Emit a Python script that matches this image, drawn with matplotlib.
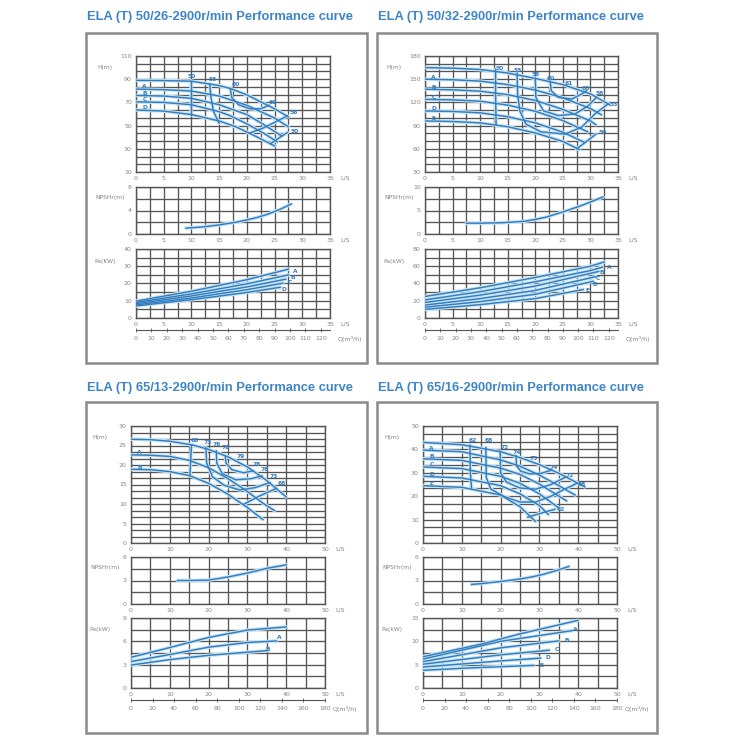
import numpy as np
import matplotlib.pyplot as plt
from matplotlib.patches import Rectangle
from matplotlib.ticker import FixedLocator, FuncFormatter

# ---------------- data ----------------
# panel 1 : ELA (T) 50/26
p1_head_names = ["", "A", "B", "C", "D"]
p1_head = [
    ([0, 5, 10, 15, 17, 20, 22.5, 25, 27.5], [89, 88.8, 88.3, 84.5, 82, 76.5, 70.5, 64.5, 57.5]),
    ([0, 5, 10, 15, 20, 25, 27.5], [81.5, 81, 79.8, 75.5, 67.5, 56.5, 49]),
    ([0, 5, 10, 15, 20, 23, 26.3], [76, 75.5, 73.5, 68, 59.5, 51, 41]),
    ([0, 5, 10, 15, 17, 20, 23, 25.5], [70.5, 70, 68, 62, 58.5, 51.5, 43.5, 36]),
    ([0, 5, 10, 15, 18, 21.5, 25], [63.5, 62.5, 59.5, 54, 49, 41, 32.5]),
]
p1_eff = [
    ([10, 10], [88.3, 59.5]),
    ([13.3, 13.5, 14, 15], [86, 75, 62, 52]),
    ([17, 17.3, 18.5, 20.5, 22.5, 24], [82, 74, 68, 64.5, 64.5, 67.5]),
    ([20.5, 23, 25.5, 27.3], [43.5, 48, 54, 58.3]),
    ([24.3, 26, 27.3], [34.5, 40, 44]),
]
p1_eff_labels = [("50", 10, 92), ("56", 13.8, 89.5), ("60", 18, 85), ("60", 24.6, 70),
                 ("56", 28.4, 61), ("50", 28.6, 45)]
p1_npsh_q = [9, 12, 15, 18, 20, 22, 24, 26, 28]
p1_npsh = [1.0, 1.2, 1.55, 2.0, 2.4, 2.85, 3.45, 4.2, 5.1]
p1_power = [
    ([0, 10, 20, 27.5], [9.8, 15.5, 22.2, 28.3]),
    ([0, 10, 20, 27.5], [9, 14, 19.8, 25]),
    ([0, 10, 20, 27], [8.3, 12.8, 18, 22.5]),
    ([0, 10, 20, 26.5], [7.6, 11.6, 16.4, 20.2]),
    ([0, 10, 20, 26], [7, 10.6, 14.8, 17.8]),
]
p1_power_labels = [("A", 28.7, 27.2), ("B", 28.3, 23.4), ("C", 27.7, 20.3), ("D", 26.6, 16.7)]

# panel 2 : ELA (T) 50/32
p2_head_names = ["", "A", "B", "C", "D", "E"]
p2_head = [
    ([0, 5, 10, 15, 20, 25, 30, 33.5], [165, 164.3, 162.5, 158, 151, 143, 131, 117]),
    ([0, 5, 10, 15, 20, 25, 30, 32], [150, 149.3, 147.5, 143, 136, 126, 112, 104]),
    ([0, 5, 10, 15, 20, 25, 30, 31], [137, 136.3, 134.5, 130, 122.5, 111, 96, 91]),
    ([0, 5, 10, 15, 20, 25, 29.5], [124, 123.3, 121.5, 116.5, 108.5, 96.5, 82]),
    ([0, 5, 10, 15, 20, 25, 29], [109, 108.3, 106.5, 101.5, 93.5, 81.5, 68]),
    ([0, 5, 10, 15, 20, 25, 28], [96, 95.3, 93.5, 88.5, 80.5, 69.5, 59]),
]
p2_eff = [
    ([12.8, 12.8, 12.9], [162.8, 130, 91]),
    ([16.7, 16.8, 17.2, 18.3, 21, 25.4, 28.4, 30.8, 33.2], [158, 130, 109, 92, 82, 79, 88, 105, 118]),
    ([20, 20.1, 21.5, 24.2, 27.2, 29.6, 31.1], [151, 126.5, 109, 103, 105, 115.7, 126.5]),
    ([22.7, 22.9, 24.2, 26.6, 28.4, 29.3], [147.5, 135, 126.5, 124.3, 130.8, 135]),
    ([27.5, 29.2, 31], [60, 69, 79]),
]
p2_eff_labels = [("50", 13.6, 164), ("55", 16.8, 161), ("58", 20.1, 156), ("60", 22.8, 151.5),
                 ("61", 26.1, 145), ("60", 29.2, 137.5), ("58", 31.6, 131), ("55", 34.2, 117),
                 ("50", 32.2, 80.6)]
p2_npsh_q = [7.5, 10, 14, 18, 20, 22, 25, 28, 30, 32.3]
p2_npsh = [2.3, 2.3, 2.4, 2.7, 3.1, 3.6, 4.7, 5.9, 6.8, 7.9]
p2_power = [
    ([0, 10, 20, 30, 32.5], [25, 35, 47, 60, 65]),
    ([0, 10, 20, 30, 32.2], [21, 30.5, 42, 55, 59]),
    ([0, 10, 20, 31.5], [18, 26.5, 37, 54]),
    ([0, 10, 20, 31], [15, 22.5, 32, 48]),
    ([0, 10, 20, 30.5], [12.5, 19, 27.5, 42.5]),
    ([0, 10, 20, 28.7], [10, 15.5, 22.5, 33]),
]
p2_power_labels = [("A", 33.4, 59), ("B", 32.1, 53), ("C", 31.3, 45.5), ("D", 30.9, 38.5), ("E", 29.4, 31.5)]

# panel 3 : ELA (T) 65/13
p3_head_names = ["", "A", "B"]
p3_head = [
    ([0, 5, 10, 16, 20, 25, 30, 35, 40], [26.6, 26.5, 26.1, 25.1, 24, 22.1, 19.5, 16, 11.8]),
    ([0, 5, 10, 15, 20, 25, 30, 34, 37], [22.6, 22.5, 22.2, 21.2, 19.3, 16.5, 13.2, 10.2, 8.3]),
    ([0, 5, 10, 15, 20, 25, 30, 34], [18.9, 18.8, 18.3, 17.3, 15.3, 12.5, 9.1, 6]),
]
p3_eff = [
    ([15.6, 15.4, 15.2], [25.1, 21.5, 17.3]),
    ([19.3, 19.5, 21, 24, 28, 32, 35.8], [24.4, 20.5, 17, 14.8, 13.6, 14.2, 15.5]),
    ([22, 22.1, 23.5, 27, 31, 33.8], [23.6, 20.5, 17.8, 16.2, 16.5, 17.2]),
    ([24.3, 24.5, 26, 29, 31.5], [22.3, 20.5, 18.8, 18, 18.5]),
    ([29, 33, 37.5], [9.9, 12, 14.0]),
]
p3_eff_labels = [("68", 16.4, 26.2), ("73", 19.8, 25.8), ("76", 22.2, 25.3), ("78", 24.4, 24.6),
                 ("79", 28.2, 22.2), ("78", 32.3, 20.2), ("76", 34.5, 18.9), ("73", 36.7, 17.0),
                 ("68", 38.9, 15.2)]
p3_npsh_q = [12, 15, 20, 25, 30, 35, 40]
p3_npsh = [3.0, 3.0, 3.05, 3.45, 3.95, 4.55, 5.0]
p3_power = [
    ([0, 10, 20, 30, 40], [3.95, 5.2, 6.5, 7.45, 7.85]),
    ([0, 10, 20, 30, 37.5], [3.4, 4.3, 5.25, 5.85, 6.05]),
    ([0, 10, 20, 30, 35], [2.95, 3.65, 4.2, 4.6, 4.8]),
]
p3_power_labels = [("A", 38.3, 6.5), ("B", 35.3, 5.0)]

# panel 4 : ELA (T) 65/16
p4_head_names = ["", "A", "B", "C", "D", "E"]
p4_head = [
    ([0, 10, 20, 25, 30, 35, 41.7], [43, 42, 39, 36.5, 33.5, 29.8, 24]),
    ([0, 10, 20, 25, 30, 35, 39.2], [39.7, 39, 35.5, 32.8, 29, 24.5, 20.5]),
    ([0, 10, 20, 25, 30, 37], [36, 35.3, 32, 29.3, 25.2, 18]),
    ([0, 10, 20, 25, 30, 35], [32.5, 31.8, 28.5, 25.5, 21, 15]),
    ([0, 10, 20, 25, 30, 32.3], [28.5, 27.8, 24.5, 21, 16, 12.2]),
    ([0, 10, 20, 25, 29], [24.5, 23.8, 20.5, 15.5, 9.2]),
]
p4_eff = [
    ([12.1, 12.2, 12.5], [41.8, 30, 23.5]),
    ([16.2, 16.3, 17.5, 21, 25, 29, 33, 36.5, 39.8], [40.8, 28, 23, 19.8, 17.5, 17.5, 20, 23, 25.6]),
    ([19.9, 20, 21.5, 25, 29, 33, 36.8], [39.2, 30, 26, 23.5, 23, 25, 28.2]),
    ([24, 24.1, 25.2, 27.5, 30.5, 33.2], [37.3, 33, 30.7, 29.5, 29.8, 31.2]),
    ([27, 30.5, 34], [11, 12.8, 14.4]),
]
p4_eff_labels = [("62", 12.8, 44.0), ("68", 17.0, 43.6), ("72", 21.1, 40.6), ("74", 24.2, 38.6),
                 ("75", 28.5, 36.0), ("74", 33.8, 32.2), ("72", 37.8, 28.8), ("68", 41.0, 25.0),
                 ("62", 35.5, 14.4)]
p4_npsh_q = [12.5, 15, 20.8, 25.1, 28, 31.1, 34.6, 37.6]
p4_npsh = [2.5, 2.6, 2.92, 3.2, 3.45, 3.8, 4.3, 4.8]
p4_power = [
    ([0, 15, 25, 40], [6.7, 9.4, 11.6, 14.5]),
    ([0, 20, 38.5], [6.2, 10, 12.3]),
    ([0, 20, 35], [5.65, 8.6, 10.1]),
    ([0, 20, 32.5], [5.1, 7.1, 8.1]),
    ([0, 20, 30.3], [4.5, 5.8, 6.4]),
    ([0, 12, 28.5], [3.8, 4.3, 4.85]),
]
p4_power_labels = [("A", 39.3, 12.6), ("B", 37.1, 10.1), ("C", 34.5, 8.2), ("D", 32.3, 6.5), ("E", 30.6, 4.8)]

titles = ["ELA (T) 50/26-2900r/min Performance curve",
          "ELA (T) 50/32-2900r/min Performance curve",
          "ELA (T) 65/13-2900r/min Performance curve",
          "ELA (T) 65/16-2900r/min Performance curve"]

# ---------------- styling / layout ----------------
BLUE = '#357cbe'
GLOW = '#c4e5f5'
GRID = '#555555'
TXT = '#858585'
TITLE = '#3d85c6'

fig = plt.figure(figsize=(7.5, 7.5), dpi=100)
fmt = FuncFormatter(lambda v, p: f"{v:g}")


def px_axes(x0, y0, x1, y1):
    return fig.add_axes([x0 / 750, 1 - y1 / 750, (x1 - x0) / 750, (y1 - y0) / 750])


def ftext(x, y, s, **kw):
    fig.text(x / 750, 1 - y / 750, s, **kw)


def grid_axes(ax, xmax, xg, xl, ylo, yhi, nrows, yl):
    ax.set_xlim(0, xmax)
    ax.set_ylim(ylo, yhi)
    ax.xaxis.set_major_locator(FixedLocator(np.arange(0, xmax + 0.01, xl)))
    ax.xaxis.set_minor_locator(FixedLocator(np.arange(0, xmax + 0.01, xg)))
    ax.yaxis.set_major_locator(FixedLocator(np.arange(ylo, yhi + 0.01, yl)))
    ax.yaxis.set_minor_locator(FixedLocator(np.linspace(ylo, yhi, nrows + 1)))
    ax.xaxis.set_major_formatter(fmt)
    ax.yaxis.set_major_formatter(fmt)
    ax.grid(which='both', color=GRID, lw=0.95)
    ax.set_axisbelow(True)
    ax.tick_params(which='both', length=0, labelsize=4.5, labelcolor=TXT, pad=3)
    for s in ax.spines.values():
        s.set_color(GRID)
        s.set_linewidth(1.0)


def curve(ax, q, v, lw=1.05):
    ax.plot(q, v, color=GLOW, lw=2.6, solid_capstyle='round', zorder=3)
    ax.plot(q, v, color=BLUE, lw=lw, zorder=4)


def lab(ax, s, q, v):
    ax.text(q, v, s, fontsize=4.3, color=BLUE, fontweight='bold', ha='center', va='center', zorder=5)


panels = [
    dict(frame=(86, 33, 367, 363), x=(136, 330), ys=(56, 172, 187, 234, 249, 318, 330), ty=17,
         xmax=35, xg=2.5, xl=5, hy=(10, 110, 15, 20), ny=(0, 8, 4, 4), py=(0, 40, 8, 10), ql=10,
         pa="Pa(KW)", head=p1_head, names=p1_head_names, eff=p1_eff, effl=p1_eff_labels,
         nq=p1_npsh_q, nv=p1_npsh, pw=p1_power, pwl=p1_power_labels),
    dict(frame=(377, 33, 657, 363), x=(425, 618), ys=(56, 172, 187, 234, 249, 318, 330), ty=17,
         xmax=35, xg=2.5, xl=5, hy=(30, 180, 15, 30), ny=(0, 10, 4, 5), py=(0, 80, 8, 20), ql=10,
         pa="Pa(kW)", head=p2_head, names=p2_head_names, eff=p2_eff, effl=p2_eff_labels,
         nq=p2_npsh_q, nv=p2_npsh, pw=p2_power, pwl=p2_power_labels),
    dict(frame=(86, 402, 367, 733), x=(131, 325), ys=(426, 543, 557, 604, 618, 688, 700), ty=388,
         xmax=50, xg=5, xl=10, hy=(0, 30, 18, 5), ny=(0, 6, 4, 3), py=(0, 9, 6, 3), ql=20,
         pa="Pa(kW)", head=p3_head, names=p3_head_names, eff=p3_eff, effl=p3_eff_labels,
         nq=p3_npsh_q, nv=p3_npsh, pw=p3_power, pwl=p3_power_labels),
    dict(frame=(377, 402, 657, 733), x=(423, 617), ys=(426, 543, 557, 604, 618, 688, 700), ty=388,
         xmax=50, xg=5, xl=10, hy=(0, 50, 15, 10), ny=(0, 6, 4, 3), py=(0, 15, 6, 5), ql=20,
         pa="Pa(kW)", head=p4_head, names=p4_head_names, eff=p4_eff, effl=p4_eff_labels,
         nq=p4_npsh_q, nv=p4_npsh, pw=p4_power, pwl=p4_power_labels),
]

for title, P in zip(titles, panels):
    fx0, fy0, fx1, fy1 = P['frame']
    fig.add_artist(Rectangle((fx0 / 750, 1 - fy1 / 750), (fx1 - fx0) / 750, (fy1 - fy0) / 750,
                             transform=fig.transFigure, fill=False, ec='#8a8a8a', lw=1.8))
    ftext(fx0 + 1, P['ty'], title, fontsize=9.3, fontweight='bold', color=TITLE,
          va='center', ha='left', family='Liberation Sans')

    x0, x1 = P['x']
    hy0, hy1, ny0, ny1, py0, py1, qy = P['ys']
    xm = P['xmax']

    # head / efficiency
    axh = px_axes(x0, hy0, x1, hy1)
    grid_axes(axh, xm, P['xg'], P['xl'], *P['hy'])
    for (q, h), nm in zip(P['head'], P['names']):
        curve(axh, q, h)
        if nm:
            lab(axh, nm, xm * 0.045, np.interp(xm * 0.045, q, h) + (P['hy'][1] - P['hy'][0]) * 0.02)
    for q, h in P['eff']:
        curve(axh, q, h)
    for s, q, h in P['effl']:
        lab(axh, s, q, h)

    # npsh
    axn = px_axes(x0, ny0, x1, ny1)
    grid_axes(axn, xm, P['xg'], P['xl'], *P['ny'])
    curve(axn, P['nq'], P['nv'])

    # power
    axp = px_axes(x0, py0, x1, py1)
    grid_axes(axp, xm, P['xg'], P['xl'], *P['py'])
    for q, v in P['pw']:
        curve(axp, q, v)
    for s, q, v in P['pwl']:
        lab(axp, s, q, v)

    # axis names
    ftext(x0 - 31, hy0 + 12, "H(m)", fontsize=4.3, color=TXT, ha='center', va='center')
    ftext(x0 - 26, ny0 + 10, "NPSHr(m)", fontsize=4.3, color=TXT, ha='center', va='center')
    ftext(x0 - 31, py0 + 12, P['pa'], fontsize=4.3, color=TXT, ha='center', va='center')
    for yb in (hy1, ny1, py1):
        ftext(x1 + 15, yb + 6, "L/S", fontsize=4.5, color=TXT, ha='center', va='center')

    # flow axis in m3/h
    axq = px_axes(x0, qy - 1, x1, qy)
    qmax = xm * 3.6
    axq.set_xlim(0, qmax)
    axq.set_yticks([])
    axq.set_xticks(np.arange(0, qmax + 0.01, P['ql']))
    axq.xaxis.set_major_formatter(fmt)
    axq.patch.set_visible(False)
    for k in ('left', 'right', 'top'):
        axq.spines[k].set_visible(False)
    axq.spines['bottom'].set_color(GRID)
    axq.spines['bottom'].set_linewidth(0.8)
    axq.tick_params(axis='x', direction='inout', length=3, width=0.6, color=GRID,
                    labelsize=4.5, labelcolor=TXT, pad=3)
    ftext(x1 + 20, qy + 9, "Q(m³/h)", fontsize=4.5, color=TXT, ha='center', va='center')

fig.savefig("out.png", dpi=100)
